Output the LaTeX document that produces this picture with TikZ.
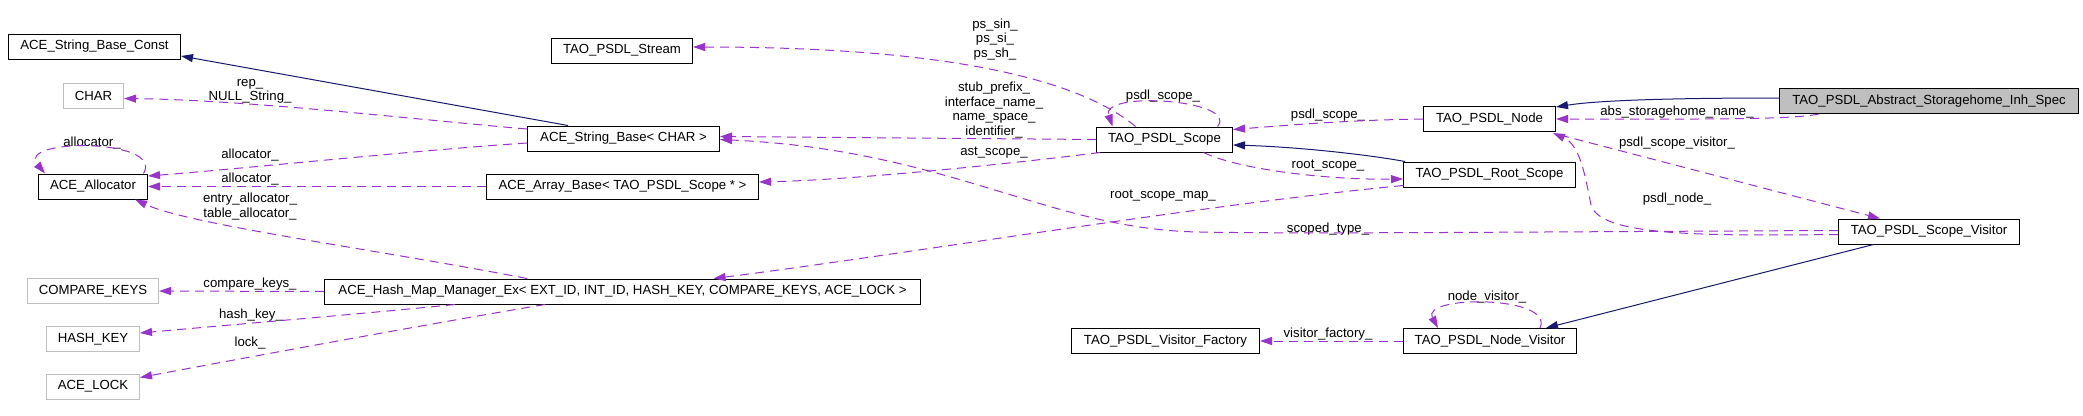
\documentclass[tikz,border=0pt]{standalone}
\usepackage{fontspec}
\setmainfont{Liberation Sans}
\usetikzlibrary{arrows.meta,calc}
\definecolor{edgepurple}{HTML}{9A32CD}
\definecolor{inhnavy}{HTML}{191970}
\definecolor{extgray}{HTML}{BFBFBF}
\tikzset{
  cls/.style={draw=black, line width=1pt, minimum height=25pt, inner sep=0pt, anchor=west, font=\fontsize{13.2}{14.6}\selectfont},
  extcls/.style={cls, draw=extgray},
  hicls/.style={cls, fill=extgray},
  lbl/.style={font=\fontsize{13.2}{14.6}\selectfont, align=center, inner sep=0pt},
  usesedge/.style={draw=edgepurple, dash pattern=on 9pt off 6pt, line width=1pt, -{Triangle[length=12pt,width=8pt,fill=edgepurple]}},
  inheritedge/.style={draw=inhnavy, line width=1pt, -{Triangle[length=12pt,width=8pt,fill=inhnavy]}},
}
\begin{document}
\begin{tikzpicture}[x=1pt,y=-1pt]
\fill[white] (0,0) rectangle (2083,415);
\useasboundingbox (0,0) rectangle (2083,415);
% classes
\node[cls, minimum width=172pt] (asbc) at (8,46.5) {ACE\_String\_Base\_Const};
\node[cls, minimum width=141pt] (stream) at (551,50.5) {TAO\_PSDL\_Stream};
\node[extcls, minimum width=60pt] (char) at (63,95.5) {CHAR};
\node[cls, minimum width=192pt] (asb) at (527,138.5) {ACE\_String\_Base< CHAR >};
\node[cls, minimum width=136pt] (scope) at (1096,139.5) {TAO\_PSDL\_Scope};
\node[cls, minimum width=109pt] (alloc) at (38,186.5) {ACE\_Allocator};
\node[cls, minimum width=272pt] (array) at (486,186.5) {ACE\_Array\_Base< TAO\_PSDL\_Scope * >};
\node[cls, minimum width=132pt] (node) at (1423,119) {TAO\_PSDL\_Node};
\node[hicls, minimum width=299pt] (storage) at (1779,101) {TAO\_PSDL\_Abstract\_Storagehome\_Inh\_Spec};
\node[cls, minimum width=172pt] (root) at (1403,174.5) {TAO\_PSDL\_Root\_Scope};
\node[cls, minimum width=181pt] (sv) at (1838,231.5) {TAO\_PSDL\_Scope\_Visitor};
\node[extcls, minimum width=131pt] (ck) at (27,291) {COMPARE\_KEYS};
\node[cls, minimum width=596pt] (hash) at (324,291.5) {ACE\_Hash\_Map\_Manager\_Ex< EXT\_ID, INT\_ID, HASH\_KEY, COMPARE\_KEYS, ACE\_LOCK >};
\node[extcls, minimum width=93pt] (hk) at (46,339) {HASH\_KEY};
\node[extcls, minimum width=93pt] (lock) at (46,386.5) {ACE\_LOCK};
\node[cls, minimum width=173pt] (nv) at (1403,341) {TAO\_PSDL\_Node\_Visitor};
\node[cls, minimum width=188pt] (vf) at (1071,341) {TAO\_PSDL\_Visitor\_Factory};
% labels
\node[lbl] (lrep) at (250,91.5) {rep\_\\NULL\_String\_};
\node[lbl] (lalloca) at (250,155) {allocator\_};
\node[lbl] (lallocb) at (250,179) {allocator\_};
\node[lbl] (lallocc) at (92,143) {allocator\_};
\node[lbl] (lentry) at (250,206.5) {entry\_allocator\_\\table\_allocator\_};
\node[lbl] (lck) at (250,284) {compare\_keys\_};
\node[lbl] (lhk) at (251,315) {hash\_key\_};
\node[lbl] (llock) at (250,343) {lock\_};
\node[lbl] (lps) at (995,39.5) {ps\_sin\_\\ps\_si\_\\ps\_sh\_};
\node[lbl] (lid) at (994,110) {stub\_prefix\_\\interface\_name\_\\name\_space\_\\identifier\_};
\node[lbl] (last) at (994,153) {ast\_scope\_};
\node[lbl] (lself) at (1163,96) {psdl\_scope\_};
\node[lbl] (lpsdlscope) at (1328,115) {psdl\_scope\_};
\node[lbl] (lroot) at (1328,166) {root\_scope\_};
\node[lbl] (lrsm) at (1163,196) {root\_scope\_map\_};
\node[lbl] (lscoped) at (1328,229) {scoped\_type\_};
\node[lbl] (labs) at (1677,112) {abs\_storagehome\_name\_};
\node[lbl] (lpsv) at (1677,143) {psdl\_scope\_visitor\_};
\node[lbl] (lpn) at (1677,199) {psdl\_node\_};
\node[lbl] (lnvis) at (1487,297) {node\_visitor\_};
\node[lbl] (lvf) at (1328,334) {visitor\_factory\_};
% inheritance
\draw[inheritedge] ($(asb.north west)+(41,0)$) -- ($(asbc.east)+(0,9.5)$);
\draw[inheritedge] ($(root.north west)+(2,0)$) .. controls (1370,155) and (1300,147) .. ($(scope.east)+(0,5.5)$);
\draw[inheritedge] ($(storage.west)+(0,-3)$) .. controls (1680,98) and (1600,100) .. ($(node.north east)+(0,1)$);
\draw[inheritedge] ($(sv.south)+(-55.5,0)$) -- ($(nv.north)+(56,0)$);
% usage
\draw[usesedge] ($(asb.west)+(0,-9.5)$) .. controls (420,120) and (250,100) .. ($(char.east)+(0,3)$);
\draw[usesedge] ($(asb.west)+(0,4.5)$) .. controls (420,150) and (250,168) .. ($(alloc.east)+(0,-10.5)$);
\draw[usesedge] (array.west) -- (alloc.east);
\draw[usesedge] ($(alloc.north)+(50.5,0)$) .. controls (165,138) and (15,138) .. ($(alloc.north)+(-48,0)$);
\draw[usesedge] ($(hash.north west)+(203,0)$) .. controls (380,250) and (190,225) .. ($(alloc.south east)+(-13,0)$);
\draw[usesedge] (hash.west) -- (ck.east);
\draw[usesedge] ($(hash.south west)+(131,0)$) .. controls (360,314) and (240,324) .. ($(hk.east)+(0,-6)$);
\draw[usesedge] ($(hash.south west)+(221,0)$) .. controls (440,322) and (260,355) .. ($(lock.east)+(0,-9)$);
\draw[usesedge] ($(scope.north)+(-29,0)$) .. controls (1080,80) and (950,47) .. ($(stream.east)+(0,-3.5)$);
\draw[usesedge] (scope.west) -- ($(asb.east)+(0,-2)$);
\draw[usesedge] ($(scope.south west)+(4,0)$) .. controls (1000,165) and (850,180) .. ($(array.east)+(0,-4.5)$);
\draw[usesedge] ($(scope.north)+(53,0)$) .. controls (1240,100) and (1100,90) .. ($(scope.north)+(-52,0)$);
\draw[usesedge] (node.west) .. controls (1350,120) and (1290,125) .. ($(scope.east)+(0,-10)$);
\draw[usesedge] ($(scope.south)+(39,0)$) .. controls (1240,170) and (1330,180) .. ($(root.west)+(0,4.5)$);
\draw[usesedge] ($(root.west)+(0,11)$) .. controls (1200,205) and (900,255) .. ($(hash.north)+(91,0)$);
\draw[usesedge] ($(sv.west)+(0,-1)$) .. controls (1500,232) and (1300,234) .. (1200,232) .. controls (1050,230) and (950,150) .. ($(asb.east)+(0,1)$);
\draw[usesedge] ($(node.south east)+(4,3)$) -- ($(sv.north)+(-49,0)$);
\draw[usesedge] ($(sv.west)+(0,3)$) .. controls (1700,236) and (1600,236) .. (1591,205) .. controls (1585,175) and (1580,145) .. ($(node.south east)+(-3,1)$);
\draw[usesedge] ($(storage.south west)+(40,0)$) .. controls (1790,120) and (1700,119) .. (node.east);
\draw[usesedge] ($(nv.north)+(50,0)$) .. controls (1555,295) and (1420,295) .. ($(nv.north)+(-52,0)$);
\draw[usesedge] (nv.west) -- (vf.east);
\end{tikzpicture}
\end{document}
